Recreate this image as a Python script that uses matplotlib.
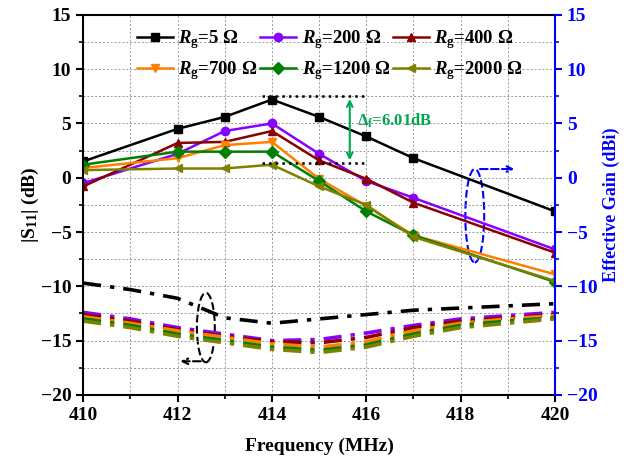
import numpy as np
import matplotlib.pyplot as plt
from matplotlib.patches import Ellipse

plt.rcParams['font.family'] = ['Liberation Serif', 'DejaVu Serif']
plt.rcParams['font.weight'] = 'bold'
plt.rcParams['mathtext.fontset'] = 'custom'
plt.rcParams['mathtext.rm'] = 'Liberation Serif:bold'
plt.rcParams['mathtext.it'] = 'Liberation Serif:bold:italic'
plt.rcParams['mathtext.bf'] = 'Liberation Serif:bold'

# gain points (solid lines, right axis)
f_gain = [410, 412, 413, 414, 415, 416, 417, 420]
gain_5 = [1.5, 4.5, 5.6, 7.2, 5.6, 3.8, 1.8, -3.1]
gain_200 = [-0.5, 2.2, 4.3, 5.0, 2.2, -0.3, -1.85, -6.6]
gain_400 = [-0.8, 3.2, 3.3, 4.3, 1.6, -0.1, -2.3, -6.9]
gain_700 = [0.9, 1.8, 3.0, 3.3, -0.1, -2.6, -5.3, -8.9]
gain_1200 = [1.2, 2.4, 2.4, 2.4, -0.3, -3.1, -5.3, -9.6]
gain_2000 = [0.7, 0.85, 0.85, 1.2, -0.8, -2.5, -5.45, -9.5]

# |S11| (dash-dot lines, left axis)
f_s11 = [410, 411, 412, 413, 414, 415, 416, 417, 418, 419, 420]
s11_5 = [-9.7, -10.3, -11.1, -12.9, -13.4, -13.0, -12.6, -12.2, -12.0, -11.8, -11.6]
s11_200 = [-12.4, -13.0, -13.8, -14.4, -15.0, -14.9, -14.3, -13.6, -13.0, -12.7, -12.4]
s11_400 = [-12.6, -13.2, -14.0, -14.6, -15.1, -15.2, -14.7, -13.8, -13.2, -12.9, -12.6]
s11_700 = [-12.8, -13.4, -14.1, -14.7, -15.3, -15.6, -15.1, -14.1, -13.4, -13.0, -12.7]
s11_1200 = [-13.0, -13.6, -14.4, -15.0, -15.6, -15.9, -15.4, -14.4, -13.6, -13.2, -12.9]
s11_2000 = [-13.2, -13.8, -14.6, -15.2, -15.8, -16.1, -15.6, -14.6, -13.8, -13.4, -13.0]

labels = ['5', '200', '400', '700', '1200', '2000']
colors = ['black', '#8800ff', '#8b0000', '#ff8000', '#008000', '#808000']
markers = ['s', 'o', '^', 'v', 'D', '<']
gains = [gain_5, gain_200, gain_400, gain_700, gain_1200, gain_2000]
s11s = [s11_5, s11_200, s11_400, s11_700, s11_1200, s11_2000]

fig = plt.figure(figsize=(6.35, 4.63), dpi=100)
ax = fig.add_axes([0.131, 0.147, 0.743, 0.821])

handles = []
for lab, c, m, g, s in zip(labels, colors, markers, gains, s11s):
    h, = ax.plot(f_gain, g, color=c, marker=m, ms=6, lw=1.8,
                 label=r'$R_{\mathrm{g}}$=' + lab + ' Ω')
    handles.append(h)
    ax.plot(f_s11, s, color=c, lw=2.6, ls=(0, (5, 2.5, 1.2, 2.5)))

ax.set_xlim(410, 420)
ax.set_ylim(-20, 15)
ax.set_xticks(np.arange(410, 421, 2))
ax.set_xticks(np.arange(410, 421, 1), minor=True)
ax.set_yticks(np.arange(-20, 16, 5))
ax.set_yticks(np.arange(-20, 16, 2.5), minor=True)
ax.grid(True, which='both', ls=(0, (2, 2)), color='#999999', lw=0.7)
ax.tick_params(which='major', direction='out', length=5, width=1.5, labelsize=14)
ax.tick_params(which='minor', direction='out', length=3, width=1.2)
for sp in ['left', 'bottom', 'top']:
    ax.spines[sp].set_linewidth(1.5)
ax.spines['right'].set_visible(False)
ax.set_xlabel('Frequency (MHz)', fontsize=14, fontweight='bold', labelpad=10)
ax.set_ylabel(r'|S$_{11}$| (dB)', fontsize=14, fontweight='bold', labelpad=0)

ax2 = ax.twinx()
ax2.set_ylim(-20, 15)
ax2.set_yticks(np.arange(-20, 16, 5))
ax2.set_yticks(np.arange(-20, 16, 2.5), minor=True)
ax2.tick_params(which='major', direction='out', length=5, width=1.5, labelsize=14,
                colors='blue')
ax2.tick_params(which='minor', direction='out', length=3, width=1.2, colors='blue')
ax2.spines['right'].set_color('blue')
ax2.spines['right'].set_linewidth(1.5)
for sp in ['left', 'bottom', 'top']:
    ax2.spines[sp].set_visible(False)
ax2.set_ylabel('Effective Gain (dBi)', fontsize=13, fontweight='bold', color='blue',
               labelpad=4)

# legend filled row by row (5, 200, 400 / 700, 1200, 2000)
order = [0, 3, 1, 4, 2, 5]
ax.legend([handles[i] for i in order], [handles[i].get_label() for i in order],
          ncol=3, loc='upper center', bbox_to_anchor=(0.523, 1.01), frameon=False,
          fontsize=13.5, handlelength=1.9, columnspacing=0.15, handletextpad=0.3,
          labelspacing=0.45)

# delta annotation
ax.plot([413.8, 416.0], [7.5, 7.5], color='black', ls=':', lw=1.8)
ax.plot([413.8, 416.0], [1.35, 1.35], color='black', ls=':', lw=1.8)
ax.annotate('', xy=(415.65, 7.5), xytext=(415.65, 1.35),
            arrowprops=dict(arrowstyle='<->', color='#00a550', lw=1.5))
ax.text(415.8, 5.2, r'$\Delta_{\mathrm{f}}$=6.01dB', color='#00a550', fontsize=12,
        fontweight='bold', va='center')

# ellipses with arrows
ax.add_patch(Ellipse((418.3, -3.5), 0.4, 8.6, fill=False, ec='blue', ls='--', lw=1.5))
ax.annotate('', xy=(419.2, 0.8), xytext=(418.35, 0.8),
            arrowprops=dict(arrowstyle='->', color='blue', lw=1.5, ls='--'))
ax.add_patch(Ellipse((412.6, -13.8), 0.38, 6.4, fill=False, ec='black', ls='--', lw=1.5))
ax.annotate('', xy=(412.0, -16.9), xytext=(412.55, -16.9),
            arrowprops=dict(arrowstyle='->', color='black', lw=1.5, ls='--'))

fig.savefig('out.png', dpi=100)
